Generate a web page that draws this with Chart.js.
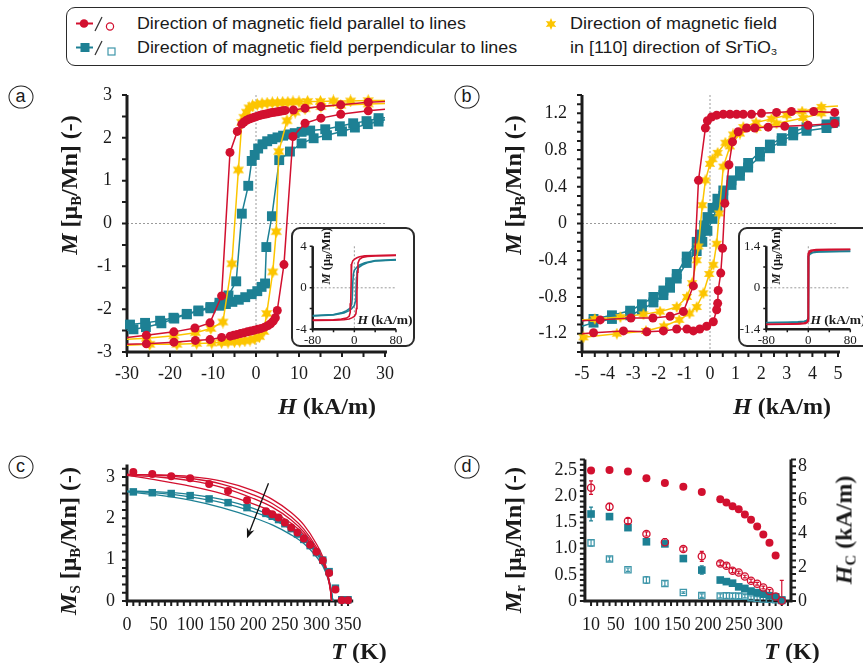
<!DOCTYPE html>
<html>
<head>
<meta charset="utf-8">
<script src="https://cdn.jsdelivr.net/npm/chart.js@4.4.1/dist/chart.umd.min.js"></script>
<style>
  body { margin: 0; width: 863px; height: 663px; overflow: hidden; background: #fff; position: relative;
         font-family: "Liberation Serif", "DejaVu Serif", serif; color: #1a1a1a; }
  canvas { position: absolute; }
  .box { position: absolute; border: 1.5px solid #2a2a2a; border-radius: 9px; background: #fff; box-sizing: border-box; }
  .lg { position: absolute; font-family: "Liberation Sans", "Open Sans", sans-serif; transform-origin: 0 50%;
        font-size: 16px; line-height: 20px; white-space: nowrap; color: #1a1a1a; }
  .lg sub { font-size: 0.6em; vertical-align: -0.25em; line-height: 0; }
  .ttl { position: absolute; font-weight: bold; font-size: 24px; white-space: nowrap; transform: translate(-50%, -50%); }
  .ttl.v { transform: translate(-50%, -50%) rotate(-90deg); }
  .ttl.s { font-size: 12.5px; }
  .ttl sub { font-size: 0.62em; vertical-align: -0.3em; line-height: 0; }
  .tag { position: absolute; width: 25px; height: 23px; border: 1.5px solid #222; border-radius: 50%; box-sizing: border-box;
         font-family: "Liberation Sans", sans-serif; font-size: 18px; line-height: 19px; text-align: center;
         transform: translate(-50%, -50%); }
</style>
</head>
<body>

<!-- legend -->
<div class="box" style="left:66px;top:7px;width:748px;height:59px;"></div>
<svg width="820" height="70" style="position:absolute;left:0;top:0">
  <line x1="76" y1="23.5" x2="93" y2="23.5" stroke="#d2102f" stroke-width="2"/>
  <circle cx="84" cy="23.5" r="4.3" fill="#d2102f"/>
  <line x1="95" y1="31" x2="102" y2="17" stroke="#333" stroke-width="1.2"/>
  <circle cx="110" cy="26.5" r="3.6" fill="none" stroke="#d2102f" stroke-width="1.2"/>
  <line x1="76" y1="47.5" x2="93" y2="47.5" stroke="#1d8094" stroke-width="2"/>
  <rect x="80.5" y="43" width="9" height="9" fill="#1d8094"/>
  <line x1="95" y1="55" x2="102" y2="41" stroke="#333" stroke-width="1.2"/>
  <rect x="108" y="48" width="7" height="7" fill="none" stroke="#3f97aa" stroke-width="1.2"/>
  <polygon id="lgstar" fill="#fcc500" points=""/>
</svg>
<div class="lg" data-w="329" style="left:137px;top:14px">Direction of magnetic field parallel to lines</div>
<div class="lg" data-w="380" style="left:137px;top:38px">Direction of magnetic field perpendicular to lines</div>
<div class="lg" data-w="207" style="left:570px;top:14px">Direction of magnetic field</div>
<div class="lg" data-w="207" style="left:570px;top:38px">in [110] direction of SrTiO<sub>3</sub></div>

<!-- panel tags -->
<div class="tag" style="left:20.5px;top:96.5px">a</div>
<div class="tag" style="left:466.5px;top:96.5px">b</div>
<div class="tag" style="left:20.5px;top:467px">c</div>
<div class="tag" style="left:466.5px;top:467px">d</div>

<canvas id="ca" width="320" height="310" style="left:80px;top:85px"></canvas>
<canvas id="cb" width="330" height="310" style="left:520px;top:85px"></canvas>
<canvas id="cc" width="285" height="185" style="left:80px;top:455px"></canvas>
<canvas id="cd" width="340" height="190" style="left:520px;top:450px"></canvas>

<div class="box" style="left:291px;top:227px;width:124px;height:120px;border-width:2px"></div>
<canvas id="cia" width="124" height="120" style="left:291px;top:227px"></canvas>
<div class="box" style="left:738px;top:227px;width:140px;height:120px;border-width:2px"></div>
<canvas id="cib" width="125" height="120" style="left:738px;top:227px"></canvas>

<!-- axis titles -->
<div class="ttl v" style="left:69px;top:185px"><i>M</i> [μ<sub>B</sub>/Mn] (-)</div>
<div class="ttl" style="left:327px;top:406px"><i>H</i> (kA/m)</div>
<div class="ttl v" style="left:513px;top:185px"><i>M</i> [μ<sub>B</sub>/Mn] (-)</div>
<div class="ttl" style="left:782px;top:406px"><i>H</i> (kA/m)</div>
<div class="ttl v" style="left:68px;top:541px"><i>M</i><sub>S</sub> [μ<sub>B</sub>/Mn] (-)</div>
<div class="ttl" style="left:359px;top:651px"><i>T</i> (K)</div>
<div class="ttl v" style="left:513px;top:540px"><i>M</i><sub>r</sub> [μ<sub>B</sub>/Mn] (-)</div>
<div class="ttl v" style="left:844px;top:530px"><i>H</i><sub>C</sub> (kA/m)</div>
<div class="ttl" style="left:792px;top:651px"><i>T</i> (K)</div>
<div class="ttl v s" style="left:326px;top:256px"><i>M</i> (μ<sub>B</sub>/Mn)</div>
<div class="ttl s" style="left:385px;top:320px;font-size:13.5px"><i>H</i> (kA/m)</div>
<div class="ttl v s" style="left:776px;top:256px"><i>M</i> (μ<sub>B</sub>/Mn)</div>
<div class="ttl s" style="left:838px;top:320px;font-size:13.5px"><i>H</i> (kA/m)</div>

<script>
const RED = "#d2102f", TEAL = "#1d8094", TEAL2 = "#3f97aa", YEL = "#fcc500";
const SERIF = "'Liberation Serif', 'DejaVu Serif', serif";

// ---------- (a) hysteresis loops, ±30 kA/m ----------
const aRedDnH = [30, 26.1, 19.7, 15.1, 11.4, 8.7, 6.8, 6.2, 5.6, 5.0, 4.4, 3.8, 3.2, 2.6, 2.0, 1.4, 0.8, 0.2, -0.4, -1.0, -1.6, -2.2, -2.8, -3.3, -4.35, -6.05, -8.0, -10.7, -14.2, -19.1, -25.5, -30];
const aRedDnM = [2.85, 2.83, 2.77, 2.73, 2.69, 2.65, 2.64, 2.63, 2.62, 2.61, 2.6, 2.59, 2.58, 2.56, 2.55, 2.54, 2.52, 2.5, 2.48, 2.46, 2.44, 2.41, 2.37, 2.32, 2.15, 1.66, -1.69, -2.32, -2.44, -2.53, -2.61, -2.66];
const aRedUpH = [-30, -25.5, -19.1, -14.1, -10.7, -8.0, -6.0, -5.2, -4.4, -3.6, -2.8, -2.0, -1.2, -0.4, 0.4, 1.2, 2.0, 2.8, 3.4, 4.0, 4.5, 4.95, 6.5, 8.6, 11.4, 15.1, 19.7, 26.1, 30];
const aRedUpM = [-2.82, -2.81, -2.77, -2.73, -2.71, -2.66, -2.63, -2.61, -2.59, -2.57, -2.55, -2.53, -2.51, -2.49, -2.47, -2.45, -2.42, -2.38, -2.34, -2.28, -2.2, -2.03, -0.96, 2.03, 2.34, 2.46, 2.55, 2.63, 2.67];
const aYelDnH = [30, 26.1, 22, 18, 15, 12, 10, 8.6, 7.4, 6.2, 5.0, 3.8, 2.6, 1.4, 0.3, -0.8, -1.6, -2.2, -2.8, -3.3, -4.1, -5.6, -7.7, -10.5, -14.1, -19.1, -25.5, -30];
const aYelDnM = [2.87, 2.87, 2.86, 2.86, 2.85, 2.85, 2.84, 2.84, 2.83, 2.83, 2.82, 2.82, 2.81, 2.8, 2.78, 2.75, 2.7, 2.6, 2.48, 2.36, 1.25, -0.94, -2.3, -2.45, -2.55, -2.62, -2.68, -2.7];
const aYelUpH = [-30, -24.7, -18.4, -13.8, -10.3, -8.0, -6.5, -5.0, -3.8, -2.6, -1.4, -0.3, 0.8, 1.8, 2.5, 3.9, 4.7, 5.3, 7.2, 9.1, 11.4, 15.1, 19.7, 26.1, 30];
const aYelUpM = [-2.84, -2.82, -2.82, -2.8, -2.79, -2.78, -2.77, -2.76, -2.75, -2.74, -2.72, -2.69, -2.64, -2.52, -2.1, -1.13, -0.19, 1.68, 2.4, 2.6, 2.68, 2.73, 2.76, 2.79, 2.8];
const aTealDnH = [30, 28.5, 25.7, 22.6, 19.5, 16.1, 12.6, 10.6, 9.0, 7.6, 6.3, 5.0, 3.8, 2.6, 1.5, 0.5, -0.3, -1.0, -1.8, -3.3, -4.6, -6.4, -8.5, -10.6, -13.4, -16.1, -19.2, -22.3, -25.8, -29.3, -30];
const aTealDnM = [2.47, 2.46, 2.39, 2.34, 2.27, 2.2, 2.17, 2.14, 2.11, 2.08, 2.05, 2.01, 1.97, 1.92, 1.85, 1.75, 1.6, 1.46, 0.88, 0.23, -1.35, -1.68, -1.85, -1.95, -2.03, -2.11, -2.2, -2.27, -2.32, -2.36, -2.38];
const aTealUpH = [-30, -28.5, -25.6, -22.0, -19.0, -16.1, -13.4, -10.6, -8.5, -7.0, -5.5, -4.0, -2.5, -1.0, 0.3, 1.3, 2.1, 2.4, 3.7, 5.4, 7.9, 10.6, 13.4, 16.5, 20.0, 23.0, 26.0, 28.5, 30];
const aTealUpM = [-2.5, -2.47, -2.42, -2.33, -2.22, -2.12, -2.05, -1.98, -1.92, -1.88, -1.83, -1.78, -1.72, -1.65, -1.58, -1.48, -1.4, -0.55, 0.17, 1.48, 1.68, 1.87, 1.99, 2.06, 2.15, 2.24, 2.32, 2.38, 2.42];
const aXTicks = [-30, -20, -10, 0, 10, 20, 30];
const aYTicks = [-3, -2, -1, 0, 1, 2, 3];

// ---------- (b) hysteresis loops, ±5 kA/m ----------
const bRedDnH = [5, 4.87, 4.05, 3.18, 2.6, 2.01, 1.62, 1.3, 1.04, 0.78, 0.52, 0.26, 0.06, -0.1, -0.18, -0.45, -0.65, -1.04, -1.56, -2.23, -3.09, -4.29, -5];
const bRedDnM = [1.21, 1.21, 1.22, 1.22, 1.21, 1.2, 1.19, 1.19, 1.19, 1.19, 1.19, 1.18, 1.16, 1.12, 1.04, 0.47, -0.68, -0.96, -1.01, -1.03, -1.03, -1.05, -1.06];
const bRedUpH = [-5, -4.55, -3.38, -2.47, -1.82, -1.3, -0.9, -0.65, -0.4, -0.13, 0.13, 0.26, 0.3, 0.32, 0.42, 0.49, 0.58, 0.74, 0.88, 1.1, 1.43, 1.75, 2.27, 2.92, 3.83, 4.87, 5];
const bRedUpM = [-1.2, -1.19, -1.17, -1.18, -1.17, -1.15, -1.15, -1.17, -1.15, -1.12, -1.07, -0.94, -0.87, -0.73, -0.54, -0.27, 0.22, 0.64, 0.89, 1.0, 1.04, 1.04, 1.05, 1.06, 1.07, 1.09, 1.09];
const bYelDnH = [5, 4.35, 3.6, 3.0, 2.4, 1.8, 1.3, 0.9, 0.6, 0.3, 0.1, 0, -0.18, -0.3, -0.45, -0.52, -0.7, -0.9, -1.3, -1.95, -2.6, -3.5, -4.5, -5];
const bYelDnM = [1.28, 1.27, 1.22, 1.18, 1.14, 1.1, 1.05, 0.97, 0.88, 0.77, 0.7, 0.65, 0.47, 0.2, -0.25, -0.4, -0.65, -0.8, -0.91, -0.96, -0.99, -1.02, -1.04, -1.05];
const bYelUpH = [-5, -4.94, -3.64, -2.5, -1.8, -1.2, -0.8, -0.52, -0.26, -0.03, 0.13, 0.26, 0.36, 0.52, 0.78, 1.17, 1.82, 2.6, 3.64, 4.35, 5];
const bYelUpM = [-1.25, -1.24, -1.2, -1.17, -1.12, -1.05, -0.98, -0.91, -0.76, -0.55, -0.45, -0.22, 0.11, 0.62, 0.84, 0.98, 1.04, 1.09, 1.15, 1.2, 1.22];
const bTealDnH = [5, 4.87, 4.55, 3.77, 3.25, 2.8, 2.34, 1.95, 1.49, 1.17, 0.84, 0.52, 0.29, 0.1, -0.1, -0.23, -0.39, -0.52, -0.91, -1.3, -1.56, -1.82, -2.21, -2.66, -3.12, -3.83, -4.55, -5];
const bTealDnM = [1.12, 1.11, 1.08, 1.05, 1.0, 0.93, 0.86, 0.78, 0.66, 0.57, 0.47, 0.36, 0.27, 0.17, 0.07, -0.02, -0.12, -0.2, -0.36, -0.55, -0.64, -0.73, -0.8, -0.88, -0.95, -1.0, -1.04, -1.06];
const bTealUpH = [-5, -4.55, -3.83, -3.12, -2.66, -2.21, -1.82, -1.56, -1.3, -0.91, -0.52, -0.3, -0.1, 0.1, 0.29, 0.52, 0.84, 1.17, 1.49, 1.95, 2.34, 2.8, 3.25, 3.77, 4.55, 5];
const bTealUpM = [-1.12, -1.08, -1.04, -1.0, -0.94, -0.86, -0.78, -0.7, -0.6, -0.43, -0.3, -0.2, -0.08, 0.05, 0.18, 0.3, 0.42, 0.52, 0.61, 0.73, 0.82, 0.9, 0.96, 1.01, 1.04, 1.05];
const bXTicks = [-5, -4, -3, -2, -1, 0, 1, 2, 3, 4, 5];
const bYTicks = [-1.2, -0.8, -0.4, 0, 0.4, 0.8, 1.2];
const bYLabels = ["-1.2", "-0.8", "-0.4", "0", "0.4", "0.8", "1.2"];

// ---------- insets, ±80 kA/m ----------
const iaRedDnH = [80, 40, 20, 10, 5, 0, -3, -5, -6, -7, -8, -10, -15, -25, -40, -80];
const iaRedDnM = [3.15, 3.12, 3.08, 3.0, 2.9, 2.75, 2.6, 2.3, 1.0, -1.5, -2.4, -2.75, -2.92, -3.02, -3.08, -3.12];
const iaRedUpH = [-80, -40, -20, -10, -5, 0, 3, 4, 5, 6, 7, 10, 15, 25, 40, 80];
const iaRedUpM = [-3.15, -3.12, -3.08, -3.0, -2.9, -2.75, -2.5, -2.0, -0.5, 1.5, 2.4, 2.75, 2.92, 3.02, 3.08, 3.12];
const iaTealDnH = [80, 40, 20, 10, 5, 0, -2, -3, -4, -5, -8, -15, -25, -40, -80];
const iaTealDnM = [2.72, 2.62, 2.42, 2.2, 2.0, 1.7, 1.3, 0.5, -1.0, -1.6, -1.95, -2.2, -2.42, -2.58, -2.68];
const iaTealUpH = [-80, -40, -20, -10, -5, 0, 2, 3, 4, 5, 8, 15, 25, 40, 80];
const iaTealUpM = [-2.72, -2.62, -2.42, -2.2, -2.0, -1.7, -1.3, -0.5, 1.0, 1.6, 1.95, 2.2, 2.42, 2.58, 2.68];
const ibRedDnH = [80, 40, 15, 5, 2, 0.5, 0, -0.5, -1, -3, -8, -20, -40, -80];
const ibRedDnM = [1.3, 1.3, 1.29, 1.27, 1.24, 1.18, 0.6, -1.0, -1.1, -1.16, -1.19, -1.21, -1.22, -1.23];
const ibRedUpH = [-80, -40, -15, -5, -2, -0.5, 0, 0.5, 1, 3, 8, 20, 40, 80];
const ibRedUpM = [-1.24, -1.23, -1.22, -1.2, -1.17, -1.12, -0.6, 1.0, 1.12, 1.2, 1.25, 1.27, 1.28, 1.29];
const ibTealDnM = [1.24, 1.23, 1.22, 1.19, 1.15, 1.08, 0.5, -0.95, -1.05, -1.1, -1.13, -1.15, -1.16, -1.17];
const ibTealUpM = [-1.18, -1.17, -1.16, -1.14, -1.1, -1.04, -0.5, 0.95, 1.06, 1.13, 1.18, 1.21, 1.22, 1.23];
const iXTicks = [-80, 0, 80];

// ---------- (c) saturation magnetisation vs T ----------
const cT = [10, 40, 70, 100, 130, 160, 190, 220, 230, 240, 250, 260, 270, 280, 290, 300, 310, 320, 330, 340, 350];
const cRedMs = [3.12, 3.07, 3.02, 2.97, 2.83, 2.66, 2.44, 2.17, 2.1, 2.02, 1.9, 1.78, 1.66, 1.51, 1.36, 1.19, 0.98, 0.68, 0.28, 0.02, 0.02];
const cTealMs = [2.64, 2.62, 2.6, 2.55, 2.47, 2.38, 2.26, 2.12, 2.05, 1.97, 1.87, 1.75, 1.62, 1.49, 1.34, 1.17, 0.99, 0.71, 0.31, 0.03, 0.03];
const cFitRT = [0, 50, 100, 150, 200, 230, 260, 280, 300, 310, 318, 322, 324];
const cFitR1 = [3.06, 3.05, 3.01, 2.9, 2.67, 2.46, 2.14, 1.84, 1.38, 1.07, 0.66, 0.3, 0];
const cFitR2 = [3.06, 3.04, 2.97, 2.83, 2.57, 2.36, 2.04, 1.74, 1.3, 1.01, 0.62, 0.3, 0];
const cFitR3 = [3.05, 3.0, 2.91, 2.75, 2.48, 2.27, 1.96, 1.67, 1.25, 0.97, 0.6, 0.28, 0];
const cFitR4 = [3.04, 2.92, 2.78, 2.6, 2.35, 2.16, 1.88, 1.61, 1.21, 0.94, 0.57, 0.26, 0];
const cFitTT = [0, 50, 100, 150, 200, 230, 260, 280, 300, 310, 318, 323, 326];
const cFitT1 = [2.66, 2.64, 2.58, 2.46, 2.24, 2.05, 1.8, 1.56, 1.19, 0.94, 0.61, 0.3, 0];
const cFitT2 = [2.65, 2.61, 2.52, 2.38, 2.16, 1.98, 1.73, 1.5, 1.15, 0.9, 0.58, 0.28, 0];
const cFitT3 = [2.64, 2.56, 2.44, 2.26, 2.02, 1.84, 1.6, 1.39, 1.07, 0.85, 0.55, 0.25, 0];
const cArrow = [[224, 2.85], [190, 1.52]];
const cXTicks = [0, 50, 100, 150, 200, 250, 300, 350];
const cYTicks = [0, 1, 2, 3];

// ---------- (d) remanence and coercivity vs T ----------
const dT = [10, 40, 70, 100, 130, 160, 190, 220, 230, 240, 250, 260, 270, 280, 290, 300, 310, 320];
const dRedMr = [2.49, 2.5, 2.47, 2.34, 2.25, 2.18, 2.08, 1.94, 1.88, 1.81, 1.75, 1.65, 1.55, 1.42, 1.27, 1.11, 0.87, null];
const dRedHc = [6.73, 5.59, 4.75, 3.98, 3.49, 3.08, 2.65, 2.22, 2.1, 1.8, 1.69, 1.45, 1.2, 1.02, 0.8, 0.59, 0.27, 0.02];
const dRedHcErr = [0.4, 0.2, 0.15, 0.12, 0.22, 0.12, 0.3, 0.1, 0.1, 0.12, 0.08, 0.08, 0.1, 0.08, 0.08, 0.08, 0.1, 1.2];
const dTealMr = [1.66, 1.61, 1.4, 1.13, 1.09, 0.81, 0.59, 0.4, 0.37, 0.34, 0.27, 0.24, 0.19, 0.16, 0.13, 0.1, 0.08, 0.02];
const dTealMrErr = [0.13, 0.02, 0.02, 0.02, 0.02, 0.02, 0.08, 0.03, 0.02, 0.02, 0.02, 0.02, 0.02, 0.02, 0.02, 0.02, 0.02, 0.02];
const dTealHc = [3.45, 2.5, 1.86, 1.25, 1.04, 0.5, 0.32, 0.3, 0.31, 0.3, 0.29, 0.28, 0.2, 0.16, 0.12, 0.1, 0.07, 0.03];
const dTealHcErr = [0.2, 0.12, 0.1, 0.2, 0.15, 0.05, 0.1, 0.12, 0.15, 0.15, 0.15, 0.1, 0.1, 0.1, 0.1, 0.1, 0.1, 0.1];
const dXTicks = [10, 50, 100, 150, 200, 250, 300];
const dYTicks = [0, 0.5, 1.0, 1.5, 2.0, 2.5];
const dYLabels = ["0", "0.5", "1.0", "1.5", "2.0", "2.5"];
const dY2Ticks = [0, 2, 4, 6, 8];

// squeeze legend lines to the widths of the original condensed font
document.querySelectorAll(".lg").forEach(el => {
    const w = el.getBoundingClientRect().width;
    el.style.transform = "scaleX(" + (Number(el.dataset.w) / w).toFixed(3) + ")";
});

// six-pointed star marker
function starImg(d, color) {
    const c = document.createElement("canvas");
    c.width = c.height = d;
    const g = c.getContext("2d"), R = d / 2, r = R * 0.52;
    g.beginPath();
    for (let k = 0; k < 12; k++) {
        const rad = k % 2 ? r : R, ang = -Math.PI / 2 + k * Math.PI / 6;
        g.lineTo(R + rad * Math.cos(ang), R + rad * Math.sin(ang));
    }
    g.closePath();
    g.fillStyle = color;
    g.fill();
    return c;
}
// legend star
(function () {
    const pts = [];
    for (let k = 0; k < 12; k++) {
        const rad = k % 2 ? 3 : 6, ang = -Math.PI / 2 + k * Math.PI / 6;
        pts.push((551 + rad * Math.cos(ang)).toFixed(2) + "," + (24 + rad * Math.sin(ang)).toFixed(2));
    }
    document.getElementById("lgstar").setAttribute("points", pts.join(" "));
})();

const xy = (xs, ys) => xs.map((x, i) => ({x: x, y: ys[i]})).filter(p => p.y !== null);

function series(xs, ys, color, style, r, edge, extra) {
    return Object.assign({
        data: xy(xs, ys),
        showLine: true, borderColor: color, borderWidth: 1.5, tension: 0,
        pointStyle: style, pointBackgroundColor: color, pointBorderWidth: 0,
        pointRadius: ctx => (edge && ctx.raw && Math.abs(ctx.raw.x) >= edge ? 0 : r),
        clip: false
    }, extra || {});
}
function curve(xs, ys, color) {
    return {data: xy(xs, ys), showLine: true, borderColor: color, borderWidth: 1.3,
            cubicInterpolationMode: "monotone", pointRadius: 0, clip: false};
}

function axisX(min, max, ticks, labels, h, size, pad) {
    return {
        type: "linear", position: "bottom", min: min, max: max,
        grid: {display: false, drawTicks: false}, border: {display: false},
        afterBuildTicks: s => { s.ticks = ticks.map(v => ({value: v})); },
        afterFit: s => { s.height = h; s.paddingLeft = 0; s.paddingRight = 0; },
        ticks: {font: {family: SERIF, size: size}, color: "#1a1a1a", padding: pad, maxRotation: 0, autoSkip: false,
                callback: (v, i) => labels[i]}
    };
}
function axisY(min, max, ticks, labels, w, size, pad, pos) {
    return {
        type: "linear", position: pos || "left", min: min, max: max,
        grid: {display: false, drawTicks: false}, border: {display: false},
        afterBuildTicks: s => { s.ticks = ticks.map(v => ({value: v})); },
        afterFit: s => { s.width = w; s.paddingTop = 0; s.paddingBottom = 0; },
        ticks: {font: {family: SERIF, size: size}, color: "#1a1a1a", padding: pad, autoSkip: false,
                crossAlign: "near", callback: (v, i) => labels[i]}
    };
}

// axes lines, tick marks, zero lines, error bars, arrow
const axesPlugin = {
    id: "axes",
    beforeDatasetsDraw(chart, args, o) {
        const {ctx, chartArea: a, scales} = chart;
        ctx.save();
        if (o.zero) {
            ctx.strokeStyle = "#9a9a9a";
            ctx.lineWidth = 1;
            ctx.setLineDash([2, 2]);
            const x0 = scales.x.getPixelForValue(0), y0 = scales.y.getPixelForValue(0);
            ctx.beginPath();
            ctx.moveTo(a.left, y0); ctx.lineTo(a.right, y0);
            ctx.moveTo(x0, a.top); ctx.lineTo(x0, a.bottom);
            ctx.stroke();
            ctx.setLineDash([]);
        }
        // error bars
        ctx.lineWidth = 1.2;
        chart.data.datasets.forEach((ds, i) => {
            if (!ds.errs) return;
            const meta = chart.getDatasetMeta(i), s = scales[ds.yAxisID || "y"];
            ctx.strokeStyle = ds.errColor || ds.borderColor;
            ctx.save();
            ctx.beginPath();
            ctx.rect(a.left, a.top, a.right - a.left, a.bottom - a.top);
            ctx.clip();
            ctx.beginPath();
            meta.data.forEach((pt, j) => {
                const v = ds.data[j].y, e = ds.errs[j];
                const p1 = s.getPixelForValue(v - e), p2 = s.getPixelForValue(v + e);
                ctx.moveTo(pt.x, p1); ctx.lineTo(pt.x, p2);
                ctx.moveTo(pt.x - 2, p1); ctx.lineTo(pt.x + 2, p1);
                ctx.moveTo(pt.x - 2, p2); ctx.lineTo(pt.x + 2, p2);
            });
            ctx.stroke();
            ctx.restore();
        });
        ctx.strokeStyle = "#1c1c1c";
        ctx.lineWidth = o.tw || 2;
        (o.marks || []).forEach(m => {
            const s = scales[m.axis];
            const n = Math.round((m.to - m.from) / m.step);
            ctx.beginPath();
            for (let i = 0; i <= n; i++) {
                const p = s.getPixelForValue(m.from + i * m.step);
                if (m.axis === "x") { ctx.moveTo(p, a.bottom); ctx.lineTo(p, a.bottom + m.len); }
                else if (s.position === "right") { ctx.moveTo(a.right, p); ctx.lineTo(a.right + m.len, p); }
                else { ctx.moveTo(a.left, p); ctx.lineTo(a.left - m.len, p); }
            }
            ctx.stroke();
        });
        const lw = o.lw;
        ctx.lineWidth = lw;
        ctx.beginPath();
        ctx.moveTo(a.left, a.top); ctx.lineTo(a.left, a.bottom + lw / 2);
        ctx.moveTo(a.left - lw / 2, a.bottom); ctx.lineTo(a.right + (o.xExt || 0), a.bottom);
        if (o.right) { ctx.moveTo(a.right, a.top); ctx.lineTo(a.right, a.bottom + lw / 2); }
        ctx.stroke();
        ctx.restore();
    },
    afterDatasetsDraw(chart, args, o) {
        if (!o.arrow) return;
        const {ctx, scales} = chart;
        const [p, q] = o.arrow;
        const x1 = scales.x.getPixelForValue(p[0]), y1 = scales.y.getPixelForValue(p[1]);
        const x2 = scales.x.getPixelForValue(q[0]), y2 = scales.y.getPixelForValue(q[1]);
        const ang = Math.atan2(y2 - y1, x2 - x1), L = 10, W = 4;
        ctx.save();
        ctx.strokeStyle = ctx.fillStyle = "#111";
        ctx.lineWidth = 1.3;
        ctx.beginPath();
        ctx.moveTo(x1, y1);
        ctx.lineTo(x2 - L * 0.7 * Math.cos(ang), y2 - L * 0.7 * Math.sin(ang));
        ctx.stroke();
        ctx.beginPath();
        ctx.moveTo(x2, y2);
        ctx.lineTo(x2 - L * Math.cos(ang) + W * Math.sin(ang), y2 - L * Math.sin(ang) - W * Math.cos(ang));
        ctx.lineTo(x2 - L * 0.7 * Math.cos(ang), y2 - L * 0.7 * Math.sin(ang));
        ctx.lineTo(x2 - L * Math.cos(ang) - W * Math.sin(ang), y2 - L * Math.sin(ang) + W * Math.cos(ang));
        ctx.closePath();
        ctx.fill();
        ctx.restore();
    }
};

function makeChart(id, datasets, scales, padding, axes) {
    return new Chart(document.getElementById(id), {
        type: "scatter",
        data: {datasets: datasets},
        options: {
            responsive: false, animation: false, events: [], devicePixelRatio: 1,
            layout: {padding: padding},
            scales: scales,
            plugins: {legend: {display: false}, tooltip: {enabled: false}, axes: axes}
        },
        plugins: [axesPlugin]
    });
}

const starA = starImg(13, YEL), starB = starImg(12, YEL);

// (a)
makeChart("ca", [
    series(aRedDnH, aRedDnM, RED, "circle", 4.5, 30),
    series(aRedUpH, aRedUpM, RED, "circle", 4.5, 30),
    series(aYelDnH, aYelDnM, YEL, starA, 6, 30),
    series(aYelUpH, aYelUpM, YEL, starA, 6, 30),
    series(aTealDnH, aTealDnM, TEAL, "rect", 7, 30),
    series(aTealUpH, aTealUpM, TEAL, "rect", 7, 30)
], {
    x: axisX(-30, 30, aXTicks, aXTicks.map(String), 43, 18, 11),
    y: axisY(-3, 3, aYTicks, aYTicks.map(String), 47, 18, 15)
}, {left: 0, top: 10, right: 15, bottom: 0}, {
    lw: 3, zero: true, xExt: 2,
    marks: [{axis: "x", from: -30, to: 30, step: 5, len: 5}, {axis: "y", from: -3, to: 3, step: 0.5, len: 5}]
});

// (b)
makeChart("cb", [
    series(bRedDnH, bRedDnM, RED, "circle", 4.5, 5),
    series(bRedUpH, bRedUpM, RED, "circle", 4.5, 5),
    series(bYelDnH, bYelDnM, YEL, starB, 6, 5),
    series(bYelUpH, bYelUpM, YEL, starB, 6, 5),
    series(bTealDnH, bTealDnM, TEAL, "rect", 7, 5),
    series(bTealUpH, bTealUpM, TEAL, "rect", 7, 5)
], {
    x: axisX(-5, 5, bXTicks, bXTicks.map(String), 43, 18, 11),
    y: axisY(-1.4, 1.4, bYTicks, bYLabels, 62, 18, 15)
}, {left: 0, top: 10, right: 12, bottom: 0}, {
    lw: 3, zero: true, xExt: 2,
    marks: [{axis: "x", from: -5, to: 5, step: 0.5, len: 5}, {axis: "y", from: -1.4, to: 1.4, step: 0.1, len: 5}]
});

// insets
function inset(id, sets, yMax, yTicks, yLabels, yW, right, yStep) {
    makeChart(id, sets, {
        x: axisX(-80, 80, iXTicks, iXTicks.map(String), 17.7, 13, 3),
        y: axisY(-yMax, yMax, yTicks, yLabels, yW, 13, 6)
    }, {left: 0, top: 19.3, right: right, bottom: 0}, {
        lw: 2.5, zero: true, tw: 1.5,
        marks: [{axis: "x", from: -80, to: 80, step: 40, len: 3}, {axis: "y", from: -yMax, to: yMax, step: yStep, len: 3}]
    });
}
const lineOnly = (xs, ys, c) => ({data: xy(xs, ys), showLine: true, borderColor: c, borderWidth: 1.6, pointRadius: 0, tension: 0, clip: false});
inset("cia", [
    lineOnly(iaRedDnH, iaRedDnM, RED), lineOnly(iaRedUpH, iaRedUpM, RED),
    lineOnly(iaTealDnH, iaTealDnM, TEAL), lineOnly(iaTealUpH, iaTealUpM, TEAL)
], 4, [-4, 0, 4], ["-4", "0", "4"], 21.7, 19, 2);
inset("cib", [
    lineOnly(ibRedDnH, ibRedDnM, RED), lineOnly(ibRedUpH, ibRedUpM, RED),
    lineOnly(ibRedDnH, ibTealDnM, TEAL), lineOnly(ibRedUpH, ibTealUpM, TEAL)
], 1.4, [-1.4, 0, 1.4], ["-1.4", "0", "1.4"], 28.3, 12.7, 0.7);

// (c)
makeChart("cc", [
    series(cT, cRedMs, RED, "circle", 4, 0, {showLine: false}),
    series(cT, cTealMs, TEAL, "rect", 5.3, 0, {showLine: false}),
    curve(cFitRT, cFitR1, RED), curve(cFitRT, cFitR2, RED), curve(cFitRT, cFitR3, RED), curve(cFitRT, cFitR4, RED),
    curve(cFitTT, cFitT1, TEAL), curve(cFitTT, cFitT2, TEAL), curve(cFitTT, cFitT3, TEAL)
], {
    x: axisX(0, 355, cXTicks, cXTicks.map(String), 39, 18, 13),
    y: axisY(0, 3.3, cYTicks, cYTicks.map(String), 47, 18, 12)
}, {left: 0, top: 9.6, right: 13.8, bottom: 0}, {
    lw: 3, arrow: cArrow, xExt: 2,
    marks: [{axis: "x", from: 0, to: 350, step: 10, len: 5}, {axis: "y", from: 0, to: 3.2, step: 0.2, len: 5}]
});

// (d)
makeChart("cd", [
    series(dT, dRedMr, RED, "circle", 4, 0, {showLine: false}),
    series(dT, dRedHc, RED, "circle", 3.6, 0, {showLine: false, yAxisID: "y2", pointBackgroundColor: "rgba(0,0,0,0)",
        pointBorderColor: RED, pointBorderWidth: 1.3, errs: dRedHcErr}),
    series(dT, dTealMr, TEAL, "rect", 5.4, 0, {showLine: false, errs: dTealMrErr}),
    series(dT, dTealHc, TEAL2, "rect", 4.4, 0, {showLine: false, yAxisID: "y2", pointBackgroundColor: "rgba(0,0,0,0)",
        pointBorderColor: TEAL2, pointBorderWidth: 1.3, errs: dTealHcErr})
], {
    x: axisX(0, 335, dXTicks, dXTicks.map(String), 39, 18, 13),
    y: axisY(0, 2.7, dYTicks, dYLabels, 64.9, 18, 8),
    y2: axisY(0, 8.4, dY2Ticks, dY2Ticks.map(String), 69, 18, 7, "right")
}, {left: 0, top: 9.5, right: 0, bottom: 0}, {
    lw: 3, right: true,
    marks: [{axis: "x", from: 10, to: 330, step: 10, len: 5}, {axis: "y", from: 0, to: 2.7, step: 0.1, len: 5},
            {axis: "y2", from: 0, to: 8.4, step: 0.4, len: 5}]
});
</script>
</body>
</html>
